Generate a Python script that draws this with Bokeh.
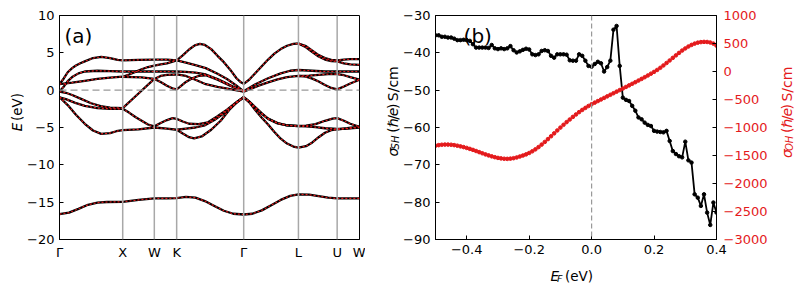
import math
from bokeh.plotting import figure
from bokeh.models import Range1d, LinearAxis, Span, Label, FixedTicker, CustomJSTickFormatter
from bokeh.layouts import row, column
from bokeh.embed import file_html
from bokeh.resources import INLINE

FONT = "DejaVu Sans"
RED = "#e41a1c"

# ---------------- panel (a): band structure ----------------
kpath_pos = [0.0, 1.0, 1.5, 1.8536, 2.9142, 3.7802, 4.3926, 4.7462]
kpath_labels = ["Γ", "X", "W", "K", "Γ", "L", "U", "W"]
energy_ticks = [-20, -15, -10, -5, 0, 5, 10]

band_s_k = [0.0, 0.15, 0.3, 0.45, 0.6, 0.75, 1.0, 1.25, 1.5, 1.7, 1.8536, 2.0, 2.15, 2.3, 2.45, 2.6, 2.75, 2.9142,
            3.05, 3.2, 3.35, 3.5, 3.65, 3.7802, 3.95, 4.1, 4.25, 4.3926, 4.55, 4.7462]
band_s_E = [-16.6, -16.4, -15.9, -15.35, -15.05, -14.98, -14.95, -14.7, -14.5, -14.5, -14.45, -14.3, -14.4, -14.85,
            -15.5, -16.15, -16.55, -16.65, -16.55, -16.1, -15.4, -14.7, -14.15, -13.95, -14.0, -14.2, -14.4, -14.5,
            -14.5, -14.5]

band1_k = [0.0, 0.07, 0.13, 0.2, 0.26, 0.33, 0.4, 0.53, 0.66, 0.8, 0.92, 1.0, 1.25, 1.5, 1.7, 1.8536,
           1.95, 2.05, 2.14, 2.22, 2.3, 2.4, 2.5, 2.6, 2.7, 2.8, 2.87, 2.9142,
           3.0, 3.1, 3.2, 3.3, 3.4, 3.5, 3.6, 3.7, 3.7802, 3.9, 4.0, 4.1, 4.2, 4.3, 4.3926, 4.5, 4.6, 4.7462]
band1_E = [0.8, 1.6, 2.4, 2.95, 3.3, 3.6, 3.85, 4.3, 4.45, 4.3, 4.05, 4.0, 4.05, 4.1, 4.1, 4.0,
           4.65, 5.45, 6.0, 6.2, 6.05, 5.5, 4.6, 3.75, 2.75, 1.6, 1.05, 0.85,
           1.4, 2.3, 3.2, 4.1, 4.9, 5.5, 5.95, 6.2, 6.25, 5.9, 5.3, 4.7, 4.3, 4.05, 4.0, 4.1, 4.15, 4.15]

band1b_k = [3.7802, 3.9, 4.0, 4.1, 4.2, 4.3, 4.3926, 4.5, 4.6, 4.7462]
band1b_E = [6.25, 5.75, 5.1, 4.5, 4.1, 3.9, 3.85, 3.6, 3.45, 3.4]

band2_k = [1.0, 1.1, 1.2, 1.3, 1.4, 1.5, 1.6, 1.7, 1.8536, 2.0, 2.15, 2.315, 2.5, 2.65, 2.8, 2.9142]
band2_E = [1.8, 2.1, 2.45, 2.8, 3.1, 3.3, 3.45, 3.6, 4.0, 3.7, 3.35, 2.95, 2.2, 1.5, 0.6, -0.15]

band3_k = [0.0, 0.07, 0.13, 0.2, 0.3, 0.4, 0.6, 0.8, 1.0, 1.25, 1.5, 1.8536, 2.0, 2.15, 2.315, 2.5, 2.65, 2.8,
           2.9142, 3.0, 3.1, 3.3, 3.5, 3.65, 3.7802, 4.0, 4.2, 4.3926, 4.7462]
band3_E = [-0.15, 0.5, 1.2, 1.75, 2.25, 2.5, 2.6, 2.55, 2.5, 2.5, 2.5, 2.5, 2.45, 2.35, 2.1, 1.5, 0.9, 0.2,
           -0.15, 0.3, 0.8, 1.6, 2.25, 2.6, 2.7, 2.6, 2.5, 2.5, 2.5]

band4_k = [0.0, 0.1, 0.2, 0.35, 0.5, 0.65, 0.8, 1.0, 1.25, 1.5, 1.6, 1.7, 1.8536, 2.0, 2.15, 2.315, 2.5, 2.7, 2.9142]
band4_E = [-0.2, -0.35, -0.65, -1.2, -1.75, -2.15, -2.35, -2.4, -0.45, 1.5, 1.9, 2.05, 2.1, 1.9, 1.4, 0.8, 0.45,
           0.15, -0.2]

band5_k = [0.0, 0.2, 0.4, 0.6, 0.8, 1.0, 1.15, 1.3, 1.5, 1.6, 1.7, 1.8, 1.8536, 1.9, 2.0, 2.1, 2.2, 2.315, 2.5,
           2.7, 2.9142]
band5_E = [0.8, 1.0, 1.25, 1.5, 1.68, 1.8, 1.75, 1.7, 1.5, 1.1, 0.6, 0.2, 0.1, 0.4, 1.1, 1.6, 1.9, 2.0, 1.4, 0.6,
           -0.1]

band6_k = [0.0, 0.1, 0.25, 0.4, 0.6, 0.8, 1.0, 1.1, 1.2, 1.3, 1.4, 1.5, 1.6, 1.7, 1.79, 1.8536, 1.95, 2.05, 2.2,
           2.35, 2.5, 2.65, 2.8, 2.9142]
band6_E = [-0.95, -1.2, -1.7, -2.1, -2.4, -2.5, -2.5, -3.0, -3.6, -4.1, -4.6, -4.85, -4.4, -4.0, -3.75, -3.85,
           -4.2, -4.5, -4.55, -4.3, -3.5, -2.6, -1.6, -0.95]

band7_k = [0.0, 0.13, 0.26, 0.4, 0.53, 0.66, 0.8, 0.9, 1.0, 1.25, 1.5, 1.7, 1.8536, 1.95, 2.05, 2.13, 2.25, 2.4,
           2.55, 2.7, 2.82, 2.9142]
band7_E = [-0.95, -2.0, -3.3, -4.5, -5.4, -5.85, -5.75, -5.5, -5.35, -5.25, -5.0, -5.15, -5.3, -5.8, -6.3, -6.45,
           -6.2, -5.3, -4.1, -2.5, -1.5, -0.95]

band8_k = [1.8536, 2.0, 2.15, 2.3, 2.45, 2.6, 2.75, 2.9142]
band8_E = [-5.3, -5.15, -5.0, -4.7, -4.0, -3.1, -2.0, -0.95]

band9_k = [2.9142, 3.0, 3.1, 3.2, 3.3, 3.45, 3.6, 3.7802, 3.9, 4.05, 4.2, 4.32, 4.3926, 4.5, 4.6, 4.7462]
band9_E = [-0.95, -1.5, -2.3, -3.1, -3.8, -4.4, -4.7, -4.8, -4.75, -4.55, -4.1, -3.8, -3.75, -4.1, -4.5, -4.9]

band10_k = [2.9142, 3.0, 3.1, 3.2, 3.3, 3.45, 3.6, 3.7802, 3.9, 4.05, 4.2, 4.3926, 4.55, 4.7462]
band10_E = [-0.95, -1.55, -2.35, -3.15, -3.85, -4.45, -4.72, -4.82, -4.85, -4.95, -5.1, -5.2, -5.15, -5.0]

band11_k = [2.9142, 3.0, 3.1, 3.2, 3.3, 3.4, 3.5, 3.6, 3.7, 3.7802, 3.9, 4.0, 4.1, 4.2, 4.3, 4.3926, 4.55, 4.7462]
band11_E = [-0.95, -1.6, -2.7, -3.7, -4.6, -5.6, -6.5, -7.15, -7.55, -7.7, -7.5, -7.0, -6.3, -5.7, -5.35, -5.25,
            -5.1, -4.9]

band12_k = [2.9142, 3.0, 3.15, 3.3, 3.45, 3.6, 3.7802, 3.9, 4.0, 4.1, 4.2, 4.3, 4.3926, 4.5, 4.6, 4.7462]
band12_E = [-0.2, 0.1, 0.6, 1.05, 1.45, 1.75, 1.9, 1.8, 1.55, 1.15, 0.7, 0.3, 0.1, 0.5, 0.9, 1.4]

band13_k = [3.7802, 3.95, 4.1, 4.25, 4.3926, 4.5, 4.6, 4.7462]
band13_E = [1.9, 1.95, 2.05, 2.15, 2.15, 2.0, 1.75, 1.4]

# ---------------- panel (b): Hall conductivities ----------------
E_F = [round(v / 100, 2) for v in range(-50, 41)]
sigma_SH = [-35.3, -35.3, -35.7, -35.7, -35.9, -35.9, -36.2, -36.6, -36.6, -36.5,
            -36.6, -36.8, -37.7, -38.6, -38.6, -38.6, -38.6, -38.7, -37.9, -38.8,
            -39.0, -38.8, -39.0, -38.8, -38.2, -39.3, -39.9, -39.6, -39.2, -38.9,
            -39.1, -40.4, -40.6, -40.4, -39.5, -39.3, -39.5, -40.8, -41.3, -40.4,
            -40.4, -40.4, -40.5, -42.0, -42.1, -42.1, -40.4, -40.8, -42.1, -43.5,
            -43.7, -43.0, -42.4, -42.8, -45.0, -43.8, -42.1, -33.8, -32.8, -43.5,
            -52.0, -52.6, -52.9, -54.2, -55.5, -57.3, -57.8, -58.7, -59.3, -59.6,
            -60.9, -61.1, -61.2, -61.3, -60.9, -63.6, -66.3, -67.1, -67.7, -68.0,
            -63.8, -68.8, -69.4, -77.9, -78.8, -81.0, -77.9, -82.8, -86.1, -80.1,
            -82.8]
sigma_OH = [-1325, -1315, -1308, -1305, -1305, -1308, -1315, -1325, -1337, -1350,
            -1365, -1382, -1400, -1420, -1440, -1460, -1480, -1498, -1515, -1530,
            -1543, -1552, -1558, -1560, -1556, -1548, -1535, -1518, -1500, -1480,
            -1455, -1425, -1390, -1350, -1305, -1258, -1208, -1157, -1105, -1053,
            -1002, -952, -904, -857, -811, -767, -725, -686, -650, -616,
            -585, -556, -528, -500, -472, -444, -416, -388, -360, -332,
            -304, -276, -248, -220, -191, -162, -132, -102, -71, -39,
            -7, 28, 66, 108, 152, 197, 243, 288, 332, 374,
            412, 446, 475, 498, 515, 525, 529, 527, 518, 498,
            462]
sh_ticks = [-90, -80, -70, -60, -50, -40, -30]
oh_ticks = [-3000, -2500, -2000, -1500, -1000, -500, 0, 500, 1000]
ef_ticks = [-0.4, -0.2, 0.0, 0.2, 0.4]

MINUS_INT = CustomJSTickFormatter(code="return tick < 0 ? '\u2212' + Math.abs(tick).toFixed(0) : tick.toFixed(0);")
MINUS_1 = CustomJSTickFormatter(code="if (Math.abs(tick) < 1e-9) return '0.0'; return tick < 0 ? '\u2212' + Math.abs(tick).toFixed(1) : tick.toFixed(1);")

EM = {' ': 0.318, '(': 0.390, ')': 0.390, '/': 0.337, 'e': 0.615, 'V': 0.684, 'S': 0.635, 'c': 0.550,
      'm': 0.974, 'ℏ': 0.634, 'E': 0.632, 'F': 0.575, 'H': 0.752, 'O': 0.787, 'σ': 0.634, 'v': 0.592}

H_TOTAL = 285


def twidth(s, size):
    return sum(EM.get(c, 0.6) for c in s) * size


def rich_label(p, pieces, x0, y0, vertical, color="black"):
    """pieces: (text, size_px, style, baseline_shift_px, gap_after_px)"""
    pos = 0.0
    for text, size, style, shift, gap in pieces:
        if vertical:
            x, y, ang = x0 + shift, y0 + pos, math.pi / 2
        else:
            x, y, ang = x0 + pos, y0 - shift, 0.0
        p.add_layout(Label(x=x, y=y, angle=ang, text=text,
                           text_font=FONT, text_font_size=f"{size}px", text_font_style=style,
                           text_color=color, text_align="left", text_baseline="alphabetic"))
        pos += twidth(text, size) + gap


def pieces_len(pieces):
    return sum(twidth(t, s) + g for t, s, _, _, g in pieces)


def label_fig(w, h):
    f = figure(width=w, height=h, x_range=Range1d(0, w), y_range=Range1d(0, h), min_border=0,
               x_axis_location=None, y_axis_location=None, toolbar_location=None, output_backend="svg")
    f.outline_line_color = None
    f.grid.visible = False
    f.background_fill_color = "white"
    f.border_fill_color = "white"
    return f


def style_axis(ax, tick_in=4, label_color="black"):
    ax.major_tick_in = tick_in
    ax.major_tick_out = 0
    ax.minor_tick_in = 0
    ax.minor_tick_out = 0
    ax.axis_line_color = "black"
    ax.major_tick_line_color = "black"
    ax.major_label_text_font = FONT
    ax.major_label_text_font_size = "13px"
    ax.major_label_text_color = label_color
    ax.major_label_standoff = 5


# layout widths (px): label strip | panel a | label strip | panel b | label strip  = 795
W_LAB_E, W_P1, W_LAB_SH, W_P2, W_LAB_OH = 24, 341, 35, 370, 25

# ---------- figure (a)
p1 = figure(width=W_P1, height=H_TOTAL, min_border_left=34, min_border_right=6,
            min_border_top=15, min_border_bottom=H_TOTAL - 15 - 224, x_range=Range1d(0, kpath_pos[-1]),
            y_range=Range1d(-20, 10), output_backend="svg", toolbar_location=None)
p1.grid.visible = False
p1.outline_line_color = "black"
p1.outline_line_width = 1

for kp in kpath_pos[1:-1]:
    p1.add_layout(Span(location=kp, dimension="height", line_color="#a8a8a8", line_width=1.5))
p1.add_layout(Span(location=0, dimension="width", line_color="#999999", line_width=1.3, line_dash="7 4"))

bands = [(band_s_k, band_s_E), (band1_k, band1_E), (band1b_k, band1b_E), (band2_k, band2_E),
         (band3_k, band3_E), (band4_k, band4_E), (band5_k, band5_E), (band6_k, band6_E),
         (band7_k, band7_E), (band8_k, band8_E), (band9_k, band9_E), (band10_k, band10_E),
         (band11_k, band11_E), (band12_k, band12_E), (band13_k, band13_E)]
for bk, be in bands:
    p1.line(bk, be, line_color="black", line_width=2.3)
for bk, be in bands:
    p1.line(bk, be, line_color=RED, line_width=1.2, line_dash="2 2")

style_axis(p1.xaxis[0], tick_in=0)
p1.xaxis.ticker = FixedTicker(ticks=kpath_pos)
p1.xaxis.formatter = CustomJSTickFormatter(args=dict(ks=kpath_pos, ls=kpath_labels), code="""
let b = 0;
for (let i = 0; i < ks.length; i++) { if (Math.abs(ks[i] - tick) < Math.abs(ks[b] - tick)) b = i; }
return ls[b];
""")
style_axis(p1.yaxis[0], tick_in=4)
p1.yaxis.ticker = FixedTicker(ticks=energy_ticks)
p1.yaxis.formatter = MINUS_INT

p1.add_layout(Label(x=0.08, y=7.2, text="(a)", text_font=FONT, text_font_size="20px",
                    text_color="black", text_baseline="alphabetic"))

# ---------- figure (b)
p2 = figure(width=W_P2, height=263, min_border_left=33, min_border_right=54,
            min_border_top=15, min_border_bottom=24, x_range=Range1d(-0.5, 0.4),
            y_range=Range1d(-90, -30), output_backend="svg", toolbar_location=None)
p2.extra_y_ranges = {"oh": Range1d(-3000, 1000)}
p2.grid.visible = False
p2.outline_line_color = "black"
p2.outline_line_width = 1

p2.add_layout(Span(location=0, dimension="height", line_color="#999999", line_width=1.2, line_dash="5 3"))

p2.line(E_F, sigma_SH, line_color="black", line_width=1.8)
p2.scatter(E_F, sigma_SH, size=3.5, color="black")
p2.line(E_F, sigma_OH, line_color=RED, line_width=0.8, y_range_name="oh")
p2.scatter(E_F, sigma_OH, size=3.6, color=RED, y_range_name="oh")

style_axis(p2.xaxis[0], tick_in=4)
p2.xaxis.ticker = FixedTicker(ticks=ef_ticks)
p2.xaxis.formatter = MINUS_1
style_axis(p2.yaxis[0], tick_in=4)
p2.yaxis.ticker = FixedTicker(ticks=sh_ticks)
p2.yaxis.formatter = MINUS_INT

ax_r = LinearAxis(y_range_name="oh")
style_axis(ax_r, tick_in=4, label_color=RED)
ax_r.major_label_standoff = 7
ax_r.ticker = FixedTicker(ticks=oh_ticks)
ax_r.formatter = MINUS_INT
p2.add_layout(ax_r, "right")

p2.add_layout(Label(x=-0.41, y=-35.6, text="(b)", text_font=FONT, text_font_size="20px",
                    text_color="black", text_baseline="alphabetic"))

# ---------- axis-label strips (rich text with sub-scripts)
SP13 = twidth(" ", 13.5)
SP14 = twidth(" ", 14)

lab_E = label_fig(W_LAB_E, H_TOTAL)
e_pieces = [("E", 13.5, "italic", 0, SP13), ("(eV)", 13.5, "normal", 0, 0)]
rich_label(lab_E, e_pieces, 16.5, H_TOTAL - 126.7 - pieces_len(e_pieces) / 2, True)

sh_pieces = [("σ", 14, "italic", 0, 0), ("SH", 10, "italic", 3, 3 + SP14), ("(", 14, "normal", 0, 1.5),
             ("ℏ", 14, "italic", 0, 0.5), ("/", 14, "normal", 0, 0), ("e", 14, "italic", 0, 0.5),
             (")", 14, "normal", 0, SP14), ("S/cm", 14, "normal", 0, 0)]
oh_pieces = [("σ", 14, "italic", 0, 0), ("OH", 10, "italic", 3, 3 + SP14), ("(", 14, "normal", 0, 1.5),
             ("ℏ", 14, "italic", 0, 0.5), ("/", 14, "normal", 0, 0), ("e", 14, "italic", 0, 0.5),
             (")", 14, "normal", 0, SP14), ("S/cm", 14, "normal", 0, 0)]

lab_SH = label_fig(W_LAB_SH, H_TOTAL)
rich_label(lab_SH, sh_pieces, 27.0, H_TOTAL - 126.7 - pieces_len(sh_pieces) / 2, True)

lab_OH = label_fig(W_LAB_OH, H_TOTAL)
rich_label(lab_OH, oh_pieces, 16.0, H_TOTAL - 128.0 - pieces_len(oh_pieces) / 2, True, color=RED)

lab_EF = label_fig(W_P2, H_TOTAL - 263)
ef_pieces = [("E", 13.5, "italic", 0, 0), ("F", 9.5, "italic", 3, 0.5 + SP13), ("(eV)", 13.5, "normal", 0, 0)]
x_p2 = W_LAB_E + W_P1 + W_LAB_SH
rich_label(lab_EF, ef_pieces, (575 - x_p2) - pieces_len(ef_pieces) / 2, 10, False)

layout = row(lab_E, p1, lab_SH, column(p2, lab_EF), lab_OH)
open("out.html", "w").write(file_html(layout, INLINE))
